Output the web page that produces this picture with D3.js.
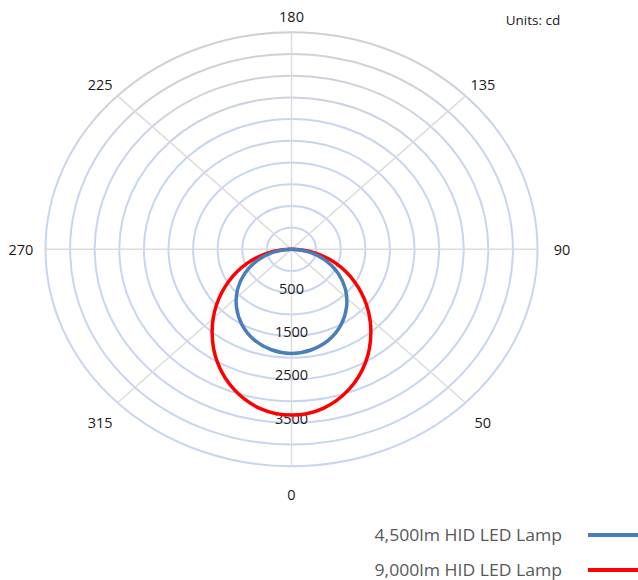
<!DOCTYPE html>
<html>
<head>
<meta charset="utf-8">
<script src="https://cdn.jsdelivr.net/npm/d3@7"></script>
<style>
  body { margin: 0; background: #fff; }
  text { font-family: "Open Sans", sans-serif; }
</style>
</head>
<body>
<div id="chart"></div>
<script>
// angles in degrees, 0 = straight down, 90 = right, 180 = up
var angles = [270, 280, 290, 300, 310, 320, 330, 340, 350, 0, 10, 20, 30, 40, 50, 60, 70, 80, 90];
var lamp4500 = [0, 370, 730, 1090, 1430, 1740, 2010, 2220, 2350, 2400, 2350, 2220, 2010, 1740, 1430, 1090, 730, 370, 0];
var lamp9000 = [0, 480, 970, 1470, 1990, 2510, 3010, 3430, 3720, 3820, 3720, 3430, 3010, 2510, 1990, 1470, 970, 480, 0];
var seriesNames = ["4,500lm HID LED Lamp", "9,000lm HID LED Lamp"];
var seriesColors = ["#4a7ebb", "#ff0000"];

var spokeAngles = [0, 45, 90, 135, 180, 225, 270, 315];
var angleLabels = ["0", "50", "90", "135", "180", "225", "270", "315"];
var radialLabels = [500, 1500, 2500, 3500];

var width = 638, height = 580;
var cx = 291.5, cy = 249.3, rx = 246, ry = 217;

var svg = d3.select("#chart").append("svg")
  .attr("width", width)
  .attr("height", height);

// radial scales (the plot is stretched horizontally)
var rX = d3.scaleLinear().domain([0, 5000]).range([0, rx]);
var rY = d3.scaleLinear().domain([0, 5000]).range([0, ry]);
var rad = function(a) { return a * Math.PI / 180; };
var px = function(a, v) { return cx + rX(v) * Math.sin(rad(a)); };
var py = function(a, v) { return cy + rY(v) * Math.cos(rad(a)); };

// gridline gradient: grey on top, light blue on the sides
var grad = svg.append("defs").append("linearGradient")
  .attr("id", "ringGrad")
  .attr("gradientUnits", "userSpaceOnUse")
  .attr("x1", 0).attr("y1", cy - ry)
  .attr("x2", 0).attr("y2", cy - ry * 0.35);
grad.append("stop").attr("offset", "0%").attr("stop-color", "#d0d0d0");
grad.append("stop").attr("offset", "100%").attr("stop-color", "#c7d5ee");

var rings = rY.ticks(10).filter(function(d) { return d > 0; });
svg.append("g").selectAll("ellipse")
  .data(rings)
  .enter().append("ellipse")
  .attr("cx", cx).attr("cy", cy)
  .attr("rx", function(d) { return rX(d); })
  .attr("ry", function(d) { return rY(d); })
  .attr("fill", "none")
  .attr("stroke", function(d, i) { return (i == 2 || i == 3 || i == 5) ? "#c7d5ee" : "url(#ringGrad)"; })
  .attr("stroke-width", 2);

svg.append("g").selectAll("line")
  .data(spokeAngles)
  .enter().append("line")
  .attr("x1", cx).attr("y1", cy)
  .attr("x2", function(d) { return px(d, 5000); })
  .attr("y2", function(d) { return py(d, 5000); })
  .attr("stroke", "#dcdcdc")
  .attr("stroke-width", 1.5);

// angle labels
svg.append("g").selectAll("text")
  .data(spokeAngles)
  .enter().append("text")
  .attr("x", function(d) { return px(d, 5500); })
  .attr("y", function(d) { return py(d, 5500) + 6 * Math.abs(Math.cos(rad(d))); })
  .attr("text-anchor", "middle")
  .attr("dominant-baseline", "central")
  .attr("font-size", 14.5)
  .attr("fill", "#1a1a1a")
  .text(function(d, i) { return angleLabels[i]; });

// value labels on the downward axis
svg.append("g").selectAll("text")
  .data(radialLabels)
  .enter().append("text")
  .attr("x", cx)
  .attr("y", function(d) { return py(0, d) + 17; })
  .attr("text-anchor", "middle")
  .attr("dominant-baseline", "central")
  .attr("font-size", 14.5)
  .attr("fill", "#1a1a1a")
  .text(function(d) { return d; });

svg.append("text")
  .attr("x", 533).attr("y", 20)
  .attr("text-anchor", "middle")
  .attr("dominant-baseline", "central")
  .attr("font-size", 13.5)
  .attr("fill", "#1a1a1a")
  .text("Units: cd");

// curves: drop the first point, it sits on the centre like the last one
var line = d3.line()
  .x(function(d) { return px(d[0], d[1]); })
  .y(function(d) { return py(d[0], d[1]); })
  .curve(d3.curveCatmullRomClosed);

var series = [lamp9000, lamp4500];
var order = [1, 0];
series.forEach(function(vals, j) {
  var pts = angles.map(function(a, i) { return [a, vals[i]]; }).slice(1);
  svg.append("path")
    .attr("d", line(pts))
    .attr("fill", "none")
    .attr("stroke", seriesColors[order[j]])
    .attr("stroke-width", 3.5);
});

// legend
var legend = svg.append("g").selectAll("g")
  .data(seriesNames)
  .enter().append("g")
  .attr("transform", function(d, i) { return "translate(0," + (535 + i * 35) + ")"; });
legend.append("text")
  .attr("transform", "translate(562,0) scale(1.1,1)")
  .attr("text-anchor", "end")
  .attr("dominant-baseline", "central")
  .attr("font-size", 16)
  .attr("fill", "#595959")
  .text(function(d) { return d; });
legend.append("line")
  .attr("x1", 588).attr("x2", 640)
  .attr("y1", 0).attr("y2", 0)
  .attr("stroke", function(d, i) { return seriesColors[i]; })
  .attr("stroke-width", 4);
</script>
</body>
</html>
